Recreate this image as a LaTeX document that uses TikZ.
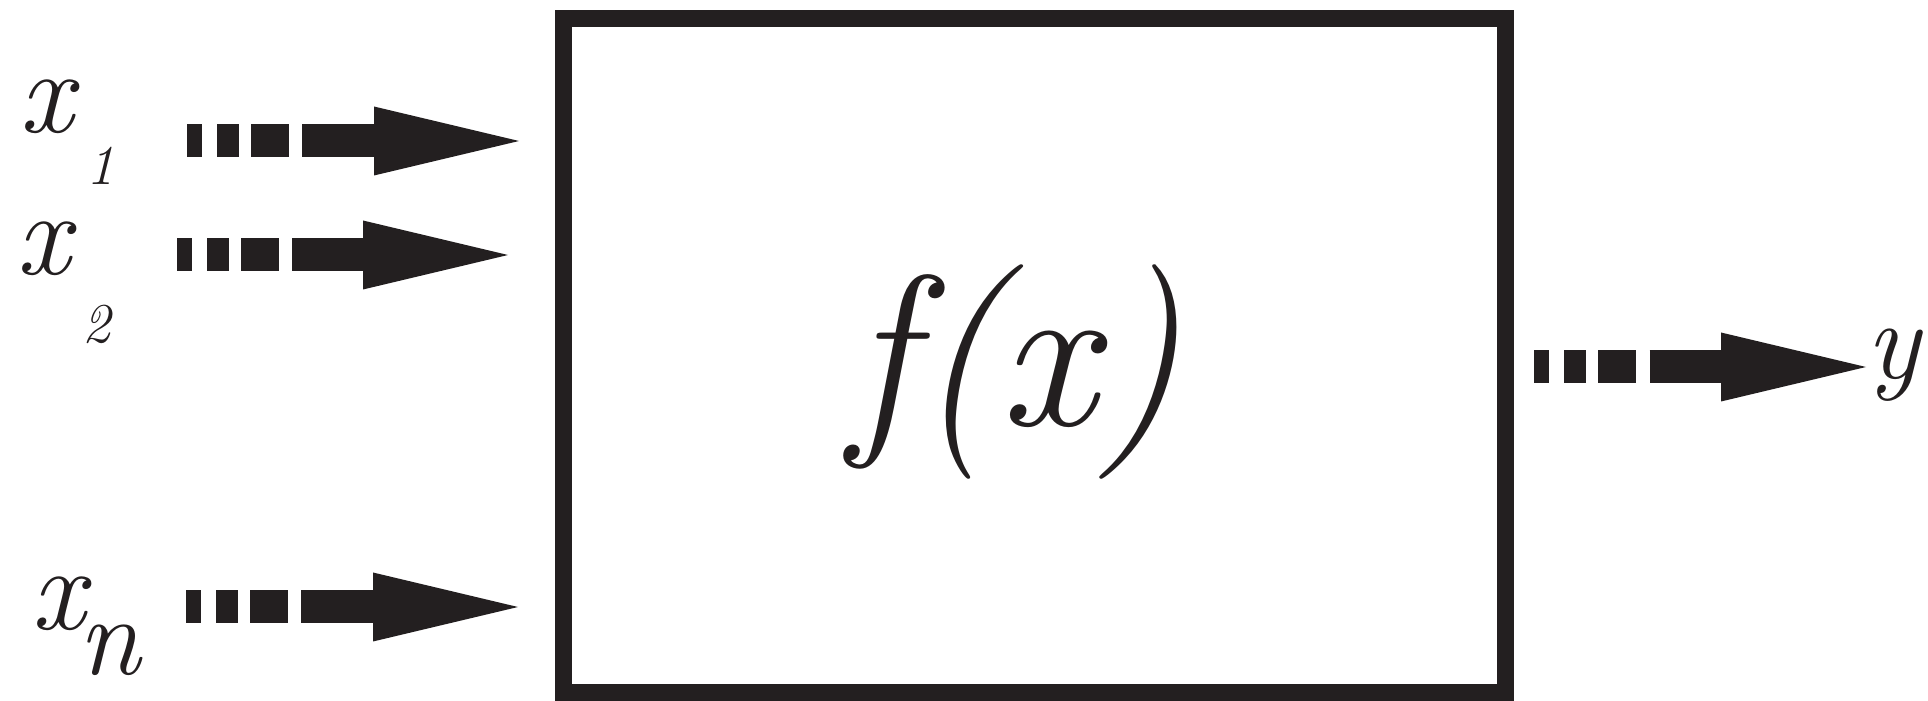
\documentclass[tikz,border=0pt]{standalone}
\usetikzlibrary{arrows.meta, positioning}
\definecolor{ink}{RGB}{35,31,32}

\begin{document}
\begin{tikzpicture}[x=0.1mm, y=-0.1mm,
  fbox/.style={draw=ink, line width=1.7mm, minimum width=94.2mm, minimum height=67.4mm, inner sep=0pt},
  fun/.style={text=ink, inner sep=0pt, font=\fontsize{61}{67}\selectfont\itshape},
  var/.style={text=ink, inner sep=0pt, anchor=base, font=\fontsize{34}{38}\selectfont\itshape},
  idx/.style={text=ink, inner sep=0pt, anchor=base, font=\fontsize{16}{18}\selectfont\itshape},
  sig/.style={draw=ink, line width=3.3mm,
              dash pattern=on 1.5mm off 1.5mm on 2.2mm off 1.2mm on 3.8mm off 1.35mm on 30mm off 0.1mm,
              -{Triangle[length=14.5mm, width=6.9mm, line width=0pt]}}
]
  \useasboundingbox (0,0) rectangle (1928,701);
  % the function block
  \node[fbox] (box) at (1034.5,355.5) {};
  \node[fun] (fx) at (1016,372) {f(x)};
  % inputs
  \node[var] (x1) at (46,133) {x};
  \node[idx] (x1i) at (101,185) {1};
  \node[var] (x2) at (43,275) {x};
  \node[idx] (x2i) at (97,343) {2};
  \node[var] (xn) at (58,630) {x};
  \node[var, font=\fontsize{32}{36}\selectfont\itshape] (xni) at (109,675) {n};
  % output
  \node[var, font=\fontsize{32}{36}\selectfont\itshape] (y) at (1893,379) {y};
  % signal ends
  \coordinate (in1s) at (187,141);
  \coordinate (in1e) at (519,141);
  \coordinate (in2s) at (177,255);
  \coordinate (in2e) at (508,255);
  \coordinate (inns) at (186,607);
  \coordinate (inne) at (518,607);
  \coordinate (outs) at (1534,367);
  \coordinate (oute) at (1866,367);
  \draw[sig] (in1s) -- (in1e);
  \draw[sig] (in2s) -- (in2e);
  \draw[sig] (inns) -- (inne);
  \draw[sig] (outs) -- (oute);
\end{tikzpicture}
\end{document}
